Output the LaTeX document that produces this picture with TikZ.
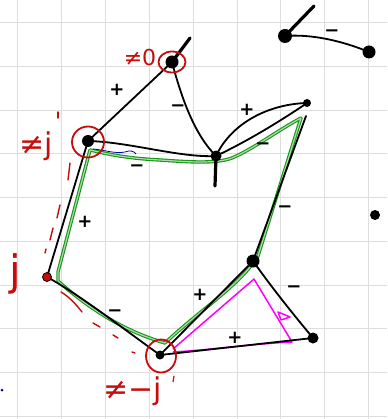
\documentclass[tikz,border=0pt]{standalone}
\usepackage{fontspec}
\newfontfamily\signfont{DejaVu Sans}
\newfontfamily\redfont{DejaVu Sans}
\usetikzlibrary{shapes.geometric}
\definecolor{pen}{RGB}{200,12,12}
\definecolor{grn}{RGB}{22,150,22}
\definecolor{mag}{RGB}{255,0,255}
\definecolor{gridc}{RGB}{222,222,222}
\begin{document}
\begin{tikzpicture}[x=1pt,y=-1pt,
  edge/.style={line width=1.8pt, black, line cap=round},
  stub/.style={line width=3.2pt, black, line cap=round},
  blob/.style={circle, fill=black, inner sep=0pt, minimum size=#1},
  lab/.style={font=\signfont\fontsize{18}{18}\selectfont\bfseries, inner sep=0pt},
  redtxt/.style={text=pen, inner sep=0pt},
  ring/.style={ellipse, draw=pen, line width=1.8pt, inner sep=0pt},
  grnpath/.style={draw=grn, line width=1.1pt, double=grn!35!white, double distance=1.2pt, line join=round},
  magpath/.style={draw=mag, line width=1.5pt, line join=round},
  reddash/.style={draw=pen, line width=1.4pt, line cap=round},
  gridline/.style={draw=gridc, line width=0.9pt}]
\useasboundingbox (0,0) rectangle (387,419);
\fill[white] (0,0) rectangle (387,419);
% grid
\foreach \i in {0,...,8} \draw[gridline] ({17.5+43.9*\i},0) -- ({17.5+43.9*\i},419);
\foreach \i in {0,...,9} \draw[gridline] (0,{22.5+43.75*\i}) -- (387,{22.5+43.75*\i});

% vertices
\coordinate (A) at (172,62);
\coordinate (B) at (88,141);
\coordinate (C) at (216,156);
\coordinate (D) at (307,103);
\coordinate (E) at (253,261);
\coordinate (F) at (313,338);
\coordinate (G) at (160,355);
\coordinate (H) at (47,277);
\coordinate (I) at (285,36);
\coordinate (J) at (369,52);
\coordinate (K) at (375,215);
\coordinate (As) at (190,38);
\coordinate (Cs) at (215,186);
\coordinate (Is) at (314,6);

% green cycle
\draw[grnpath] (58,272) -- (90,150) .. controls (100,152) and (120,158) .. (160,160)
  .. controls (190,162) and (215,164) .. (232,158) .. controls (255,148) and (275,132) .. (301,118)
  -- (258,256) .. controls (240,285) and (200,310) .. (165,343)
  .. controls (120,330) and (85,305) .. (58,281) -- cycle;

% magenta triangle
\draw[magpath] (173,349) -- (254,279) -- (292,342) .. controls (250,344) and (210,350) .. (173,352);
\draw[magpath] (278,312) -- (290,317) -- (281,320) -- cycle;

% black edges
\draw[edge] (A) -- (B);
\draw[edge] (A) .. controls (182,100) and (195,135) .. (C);
\draw[edge] (B) .. controls (130,142) and (180,158) .. (C);
\draw[edge] (C) .. controls (232,122) and (270,104) .. (D);
\draw[edge] (C) .. controls (250,140) and (285,118) .. (D);
\draw[edge] (306,116) -- (E);
\draw[edge] (E) .. controls (275,292) and (298,320) .. (F);
\draw[edge] (F) -- (G);
\draw[edge] (E) -- (G);
\draw[edge] (G) .. controls (125,330) and (80,295) .. (H);
\draw[edge] (H) -- (B);
\draw[edge] (I) .. controls (310,34) and (340,40) .. (J);
\draw[stub] (A) -- (As);
\draw[stub] (C) -- (Cs);
\draw[stub] (I) -- (Is);

% blue scribble
\draw[blue!70!black, line width=0.8pt] (93,149) .. controls (105,150) and (115,154) .. (125,152) .. controls (130,150) and (134,151) .. (136,154);
\fill[blue!70!black] (2,390) circle (1.5);

% vertex blobs
\node[blob=13pt] (nA) at (A) {};
\node[blob=12pt] (nB) at (B) {};
\node[blob=11pt] (nC) at (C) {};
\node[blob=8pt] (nD) at (D) {};
\node[blob=13pt] (nE) at (E) {};
\node[blob=11pt] (nF) at (F) {};
\node[blob=9pt] (nG) at (G) {};
\node[circle, fill=pen, draw=black, line width=0.8pt, inner sep=0pt, minimum size=9pt] (nH) at (H) {};
\node[blob=14pt] (nI) at (I) {};
\node[blob=13pt] (nJ) at (J) {};
\node[blob=10pt] (nK) at (K) {};

% red rings
\node[ring, minimum width=27pt, minimum height=21pt] (rA) at (172,62) {};
\node[ring, minimum width=32pt, minimum height=31pt] (rB) at (88,142) {};
\node[ring, minimum width=30pt, minimum height=33pt] (rG) at (161,356) {};

% red dashes
\draw[reddash] (58,112) -- (58,118);
\draw[reddash] (70,163) -- (68,180);
\draw[reddash] (60,205) -- (57,218);
\draw[reddash] (53,228) -- (50,240);
\draw[reddash] (46,249) -- (45,253);
\draw[reddash] (61,292) .. controls (68,296) and (75,303) .. (82,312);
\draw[reddash] (93,323) -- (100,327);
\draw[reddash] (113,335) -- (118,338);
\draw[reddash] (132,352) -- (135,353);

% red texts
\node[redtxt, font=\redfont\fontsize{22}{22}\selectfont] (tA) at (140,57) {≠0};
\node[redtxt, font=\redfont\fontsize{30}{30}\selectfont] (tB) at (36,146) {≠j};
\node[redtxt, font=\redfont\fontsize{42}{42}\selectfont] (tH) at (15,274) {j};
\node[redtxt, font=\redfont\fontsize{30}{30}\selectfont] (tG) at (133,391) {≠−j};
\draw[pen, line width=1.2pt] (174,376) -- (173,382);

% sign labels
\node[lab] (l1) at (117,90) {+};
\node[lab] (l2) at (178,108) {−};
\node[lab] (l3) at (137,168) {−};
\node[lab] (l4) at (247,110) {+};
\node[lab] (l5) at (263,146) {−};
\node[lab] (l6) at (285,209) {−};
\node[lab] (l7) at (294,289) {−};
\node[lab] (l8) at (235,338) {+};
\node[lab] (l9) at (200,295) {+};
\node[lab] (l10) at (115,313) {−};
\node[lab] (l11) at (85,222) {+};
\node[lab] (l12) at (332,33) {−};
\end{tikzpicture}
\end{document}
